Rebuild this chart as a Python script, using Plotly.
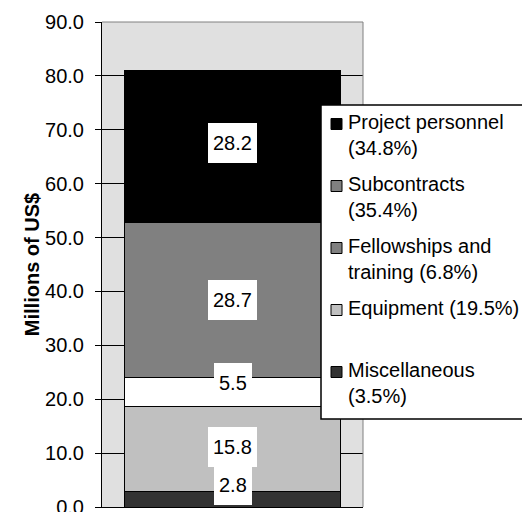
import plotly.graph_objects as go

# Budget components, stacked bottom to top (millions of US$)
categories = ["Miscellaneous", "Equipment", "Fellowships and training",
              "Subcontracts", "Project personnel"]
values = [2.8, 15.8, 5.5, 28.7, 28.2]
bar_colors = ["#333333", "#c0c0c0", "#ffffff", "#808080", "#000000"]

# Legend entries, listed top to bottom
legend_labels = ["Project personnel<br>(34.8%)", "Subcontracts<br>(35.4%)",
                 "Fellowships and<br>training (6.8%)", "Equipment (19.5%)",
                 "Miscellaneous<br>(3.5%)"]
legend_colors = ["#000000", "#808080", "#808080", "#c0c0c0", "#333333"]

# Vertical nudges (px) for the value boxes, bottom to top
label_nudge_px = [14, 2, 9, 0, 3]

tick_vals = [0, 10, 20, 30, 40, 50, 60, 70, 80, 90]

FONT = "Liberation Sans, Arial, sans-serif"
W, H = 522, 512
ML, MR, MT, MB = 102, 159, 22, 5
PW, PH = W - ML - MR, H - MT - MB


def xp(px):
    return (px - ML) / PW


def yp(py):
    return (H - MB - py) / PH


fig = go.Figure()
for name, v, c in zip(categories, values, bar_colors):
    fig.add_trace(go.Bar(
        x=[0], y=[v], name=name, width=0.828,
        marker=dict(color=c, line=dict(color="black", width=1)),
        showlegend=False,
    ))

annotations = []
base = 0.0
for v, nudge in zip(values, label_nudge_px):
    annotations.append(dict(
        x=0, y=base + v / 2, xref="x", yref="y", yshift=nudge,
        text=f"{v:.1f}", showarrow=False,
        font=dict(family=FONT, size=20, color="black"),
        bgcolor="white", borderwidth=0, borderpad=5, height=30,
        xanchor="center", yanchor="middle",
    ))
    base += v

shapes = [
    # plot-area frame (top and right edges)
    dict(type="line", xref="paper", yref="paper", x0=0, x1=1, y0=1, y1=1,
         line=dict(color="#808080", width=1), layer="above"),
    dict(type="line", xref="paper", yref="paper", x0=1, x1=1, y0=0, y1=1,
         line=dict(color="#808080", width=1), layer="above"),
    # legend box
    dict(type="rect", xref="paper", yref="paper",
         x0=xp(321), x1=xp(545), y0=yp(419), y1=yp(105),
         fillcolor="white", line=dict(color="black", width=1.5), layer="above"),
]

for k, (lab, col) in enumerate(zip(legend_labels, legend_colors)):
    sy = 124 + 62 * k
    shapes.append(dict(
        type="rect", xref="paper", yref="paper",
        x0=xp(331), x1=xp(342), y0=yp(sy + 5.5), y1=yp(sy - 5.5),
        fillcolor=col, line=dict(color="black", width=1), layer="above",
    ))
    n_lines = lab.count("<br>") + 1
    ty = 122 + 62 * k + 13 * (n_lines - 1)
    annotations.append(dict(
        x=xp(348), y=yp(ty), xref="paper", yref="paper",
        text=lab, showarrow=False, align="left",
        xanchor="left", yanchor="middle", borderpad=0, borderwidth=0,
        font=dict(family=FONT, size=20, color="black"),
    ))

fig.update_layout(
    width=W, height=H, barmode="stack",
    margin=dict(l=ML, r=MR, t=MT, b=MB, autoexpand=False),
    paper_bgcolor="white", plot_bgcolor="#e0e0e0",
    font=dict(family=FONT, size=20, color="black"),
    annotations=annotations, shapes=shapes, showlegend=False,
    xaxis=dict(range=[-0.5, 0.5], showticklabels=False, ticks="",
               showgrid=False, zeroline=False, showline=True,
               linecolor="black", linewidth=1, fixedrange=True),
    yaxis=dict(range=[0, 90], tickvals=tick_vals, tickformat=".1f",
               ticks="outside", ticklen=6, tickcolor="black", tickwidth=1,
               ticklabelstandoff=7, ticklabeloverflow="allow",
               showgrid=True, gridcolor="black", gridwidth=1,
               zeroline=False, showline=True, linecolor="black", linewidth=1,
               tickfont=dict(family=FONT, size=20, color="black"),
               title=dict(text="Millions of US$", standoff=0,
                          font=dict(family=FONT, size=20, color="black",
                                    weight="bold")),
               automargin=False, fixedrange=True),
)

fig.write_html("out.html")
